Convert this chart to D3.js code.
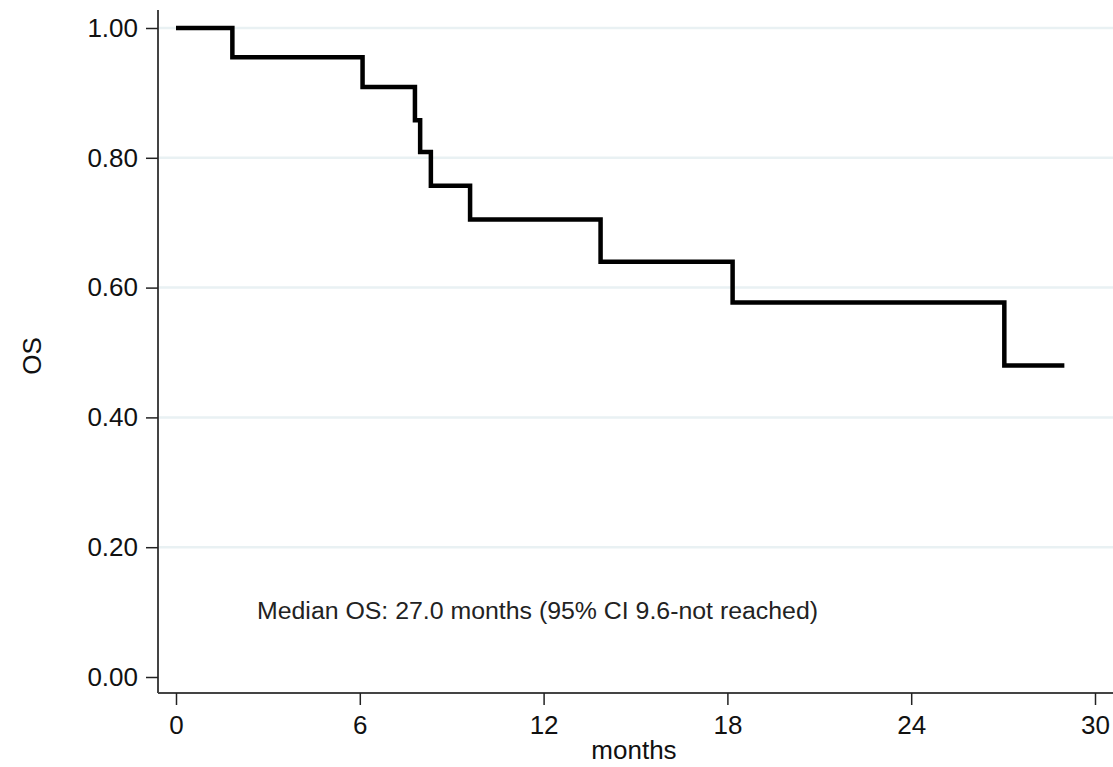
<!DOCTYPE html>
<html>
<head>
<meta charset="utf-8">
<script src="https://cdn.jsdelivr.net/npm/d3@7"></script>
<style>
  html, body { margin: 0; padding: 0; background: #fff; }
  svg { display: block; }
</style>
</head>
<body>
<svg id="chart" width="1113" height="767"></svg>
<script>
// Kaplan-Meier overall survival: event times (months) and survival after each step
const stepTimes = [0, 1.84, 6.09, 7.80, 7.97, 8.32, 9.60, 13.86, 18.17, 27.04];
const survival  = [1.0, 0.955, 0.909, 0.858, 0.809, 0.757, 0.705, 0.640, 0.577, 0.480];
const lastFollowUp = 29.0;

const xTicks = [0, 6, 12, 18, 24, 30];
const yTicks = [0, 0.2, 0.4, 0.6, 0.8, 1.0];
const gridTicks = [0.2, 0.4, 0.6, 0.8, 1.0];

const annotation = "Median OS: 27.0 months (95% CI 9.6-not reached)";
const xTitle = "months";
const yTitle = "OS";

const svg = d3.select("#chart");
const W = 1113;

const x = d3.scaleLinear().domain([0, 30]).range([176, 1095]);
const y = d3.scaleLinear().domain([0, 1]).range([677, 28]);

const axisX0 = 158;   // vertical axis position
const axisY0 = 693;   // horizontal axis position

// horizontal gridlines
svg.append("g")
  .selectAll("line")
  .data(gridTicks)
  .join("line")
  .attr("x1", axisX0 + 1)
  .attr("x2", W)
  .attr("y1", d => y(d))
  .attr("y2", d => y(d))
  .attr("stroke", "#e9f1f3")
  .attr("stroke-width", 2.5);

// y axis
const yAxis = d3.axisLeft(y)
  .tickValues(yTicks)
  .tickFormat(d3.format(".2f"))
  .tickSize(12)
  .tickSizeOuter(0)
  .tickPadding(8);
const gy = svg.append("g")
  .attr("transform", `translate(${axisX0},0)`)
  .call(yAxis);
gy.select(".domain").attr("d", `M0,10V${axisY0}`);

// x axis
const xAxis = d3.axisBottom(x)
  .tickValues(xTicks)
  .tickSize(12)
  .tickSizeOuter(0)
  .tickPadding(11);
const gx = svg.append("g")
  .attr("transform", `translate(0,${axisY0})`)
  .call(xAxis);
gx.select(".domain").attr("d", `M${axisX0},0H${W}`);

[gx, gy].forEach(g => {
  g.selectAll(".domain").attr("stroke", "#444").attr("stroke-width", 2);
  g.selectAll(".tick line").attr("stroke", "#222").attr("stroke-width", 1.5);
  g.selectAll(".tick text")
    .attr("fill", "#111")
    .style("font-family", "'Liberation Sans', Arial, sans-serif")
    .style("font-size", "26px");
});

// survival step curve
const pts = stepTimes.map((t, i) => [t, survival[i]]);
pts.push([lastFollowUp, survival[survival.length - 1]]);
const line = d3.line()
  .x(d => x(d[0]))
  .y(d => y(d[1]))
  .curve(d3.curveStepAfter);
svg.append("path")
  .datum(pts)
  .attr("d", line)
  .attr("fill", "none")
  .attr("stroke", "#000")
  .attr("stroke-width", 4.5)
  .attr("stroke-linejoin", "miter")
  .attr("stroke-linecap", "butt");

// median annotation
svg.append("text")
  .attr("x", 257)
  .attr("y", 619)
  .attr("textLength", 561)
  .attr("lengthAdjust", "spacingAndGlyphs")
  .attr("fill", "#222")
  .style("font-family", "'Liberation Sans', Arial, sans-serif")
  .style("font-size", "23px")
  .text(annotation);

// axis titles
svg.append("text")
  .attr("x", 634)
  .attr("y", 759)
  .attr("text-anchor", "middle")
  .attr("fill", "#111")
  .style("font-family", "'Liberation Sans', Arial, sans-serif")
  .style("font-size", "26px")
  .text(xTitle);

svg.append("text")
  .attr("transform", "translate(41,356) rotate(-90)")
  .attr("text-anchor", "middle")
  .attr("fill", "#111")
  .style("font-family", "'Liberation Sans', Arial, sans-serif")
  .style("font-size", "26px")
  .text(yTitle);
</script>
</body>
</html>
